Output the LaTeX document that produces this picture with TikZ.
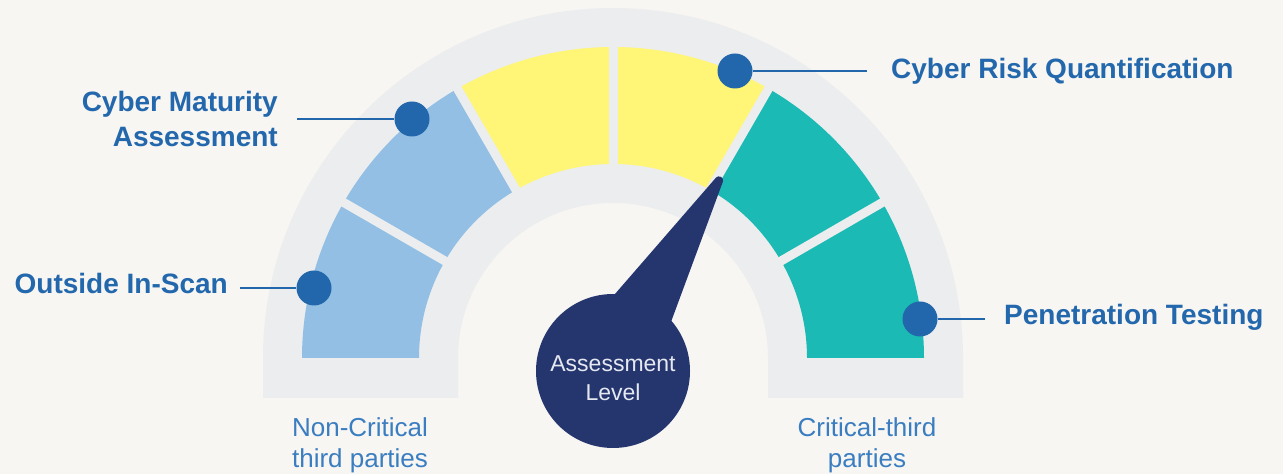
\documentclass[tikz,border=0pt]{standalone}
\usepackage{fontspec}
\setmainfont{Liberation Sans}
\definecolor{bg}{HTML}{F7F6F3}
\definecolor{band}{HTML}{ECEDEE}
\definecolor{cblue}{HTML}{92BFE3}
\definecolor{cyel}{HTML}{FFF577}
\definecolor{cteal}{HTML}{1BBAB5}
\definecolor{navy}{HTML}{25366F}
\definecolor{dotblue}{HTML}{2266AB}
\definecolor{labelblue}{HTML}{2367AC}
\definecolor{subblue}{HTML}{3A7DC0}
\definecolor{hubtext}{HTML}{E6E8F0}
\begin{document}
\begin{tikzpicture}[x=1pt,y=1pt,
  lbl/.style={font=\fontsize{28}{34.5}\selectfont\bfseries, text=labelblue, inner sep=0pt},
  sublbl/.style={font=\fontsize{26}{31}\selectfont, text=subblue, inner sep=0pt, align=center},
  dotc/.style={circle, fill=dotblue, minimum size=35pt, inner sep=0pt},
  leader/.style={draw=dotblue, line width=2.8pt},
  gap/.style={draw=band, line width=9pt}]
\useasboundingbox (0,0) rectangle (1283,474);
\fill[bg] (0,0) rectangle (1283,474);
\coordinate (C) at (613,116);
% gray band
\fill[band] (263,76) -- (263,116) arc[start angle=180,end angle=0,radius=350pt]
  -- (963,76) -- (768,76) -- (768,116) arc[start angle=0,end angle=180,radius=155pt]
  -- (458,76) -- cycle;
% coloured segments
\foreach \a/\col in {0/cteal,30/cteal,60/cyel,90/cyel,120/cblue,150/cblue}{
  \fill[\col, shift={(C)}] (\a:311pt) arc[start angle=\a, end angle=\a+30, radius=311pt]
    -- (\a+30:194pt) arc[start angle=\a+30, end angle=\a, radius=194pt] -- cycle;
}
\foreach \a in {30,60,90,120,150}{
  \draw[gap, shift={(C)}] (\a:186pt) -- (\a:318pt);
}
% leader ends
\coordinate (e1) at (297,355);
\coordinate (e2) at (240,186);
\coordinate (e3) at (867,403);
\coordinate (e4) at (985,155);
% dots
\node[dotc] (d1) at (412,355) {};
\node[dotc] (d2) at (314,186) {};
\node[dotc] (d3) at (735,403) {};
\node[dotc] (d4) at (920,155) {};
\draw[leader] (e1) -- (d1);
\draw[leader] (e2) -- (d2);
\draw[leader] (e3) -- (d3);
\draw[leader] (e4) -- (d4);
% labels
\node[lbl, anchor=east, align=right] (t1) at (278,355) {Cyber Maturity\\Assessment};
\node[lbl, anchor=base east] (t2) at (228,180.7) {Outside In-Scan};
\node[lbl, anchor=base west] (t3) at (891,395) {Cyber Risk Quantification};
\node[lbl, anchor=base west] (t4) at (1004,149.3) {Penetration Testing};
% bottom labels
\node[sublbl, anchor=north] (b1) at (360,57) {Non-Critical\\third parties};
\node[sublbl, anchor=north] (b2) at (867,57) {Critical-third\\parties};
% needle
\fill[navy, rounded corners=3pt] (605,168.5) -- (718,298.7) -- (724,295.3) -- (668,144) -- cycle;
\node[circle, fill=navy, minimum size=154pt, inner sep=0pt] (hub) at (613,103) {};
\node[font=\fontsize{23}{29}\selectfont, text=hubtext, align=center, inner sep=0pt] (hubl) at (613,96) {Assessment\\Level};
\end{tikzpicture}
\end{document}
